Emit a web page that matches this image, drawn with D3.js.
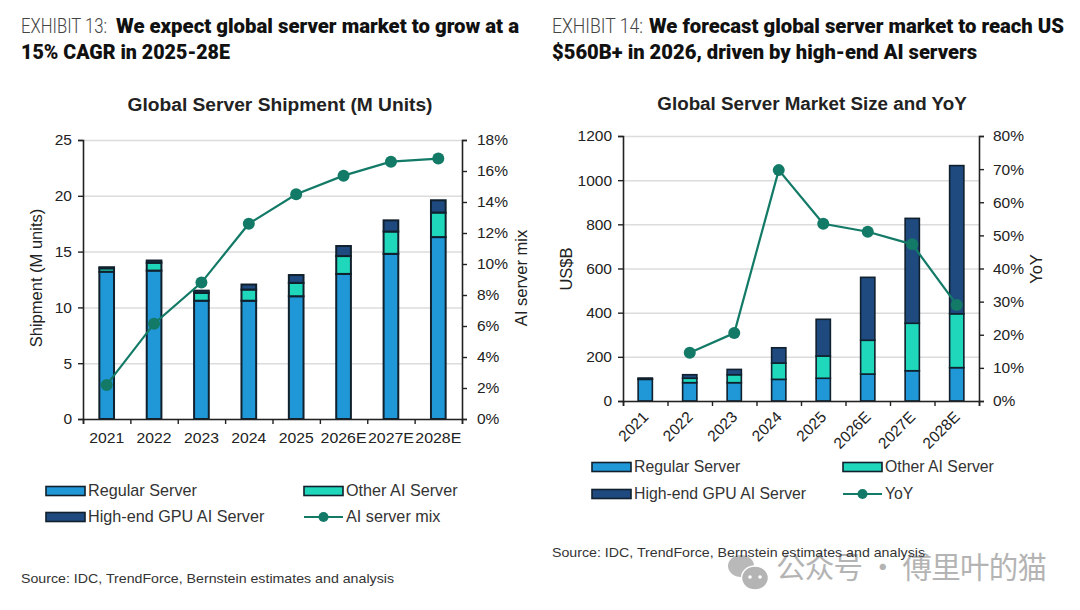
<!DOCTYPE html>
<html>
<head>
<meta charset="utf-8">
<script src="https://cdn.jsdelivr.net/npm/d3@7"></script>
<style>
  html, body { margin: 0; padding: 0; background: #fff; }
  svg { display: block; }
  text { font-family: "Liberation Sans", Arial, sans-serif; fill: #222; }
  .head { font-family: Roboto, sans-serif; font-size: 20px; }
  .headBold { font-weight: 900; fill: #111; }
  .headLight { font-weight: 300; fill: #444; }
  .chartTitle { font-weight: 700; text-anchor: middle; }
  .tick-label { font-size: 15.5px; }
  .axis-title { font-size: 16.5px; }
  .legend-label { fill: #333; }
  .source { font-size: 13.5px; fill: #333; }
</style>
</head>
<body>
<div id="chart"></div>
<script>
// categories and values
var years = ["2021", "2022", "2023", "2024", "2025", "2026E", "2027E", "2028E"];

var shipRegular = [13.2, 13.3, 10.6, 10.6, 11.0, 13.0, 14.8, 16.3];
var shipOther = [0.3, 0.7, 0.7, 1.0, 1.2, 1.6, 2.0, 2.2];
var shipHigh = [0.1, 0.2, 0.2, 0.45, 0.7, 0.9, 1.0, 1.1];
var shipMix = [2.2, 6.15, 8.8, 12.6, 14.5, 15.7, 16.6, 16.8];

var sizeRegular = [98, 83, 83, 98, 103, 122, 137, 151];
var sizeOther = [2, 20, 36, 74, 101, 153, 215, 244];
var sizeHigh = [4, 16, 24, 69, 166, 285, 475, 671];
var sizeYoy = [null, 14.6, 20.5, 69.7, 53.5, 51.1, 47.3, 29];

var shipTicks = [0, 5, 10, 15, 20, 25];
var mixTicks = [0, 2, 4, 6, 8, 10, 12, 14, 16, 18];
var sizeTicks = [0, 200, 400, 600, 800, 1000, 1200];
var yoyTicks = [0, 10, 20, 30, 40, 50, 60, 70, 80];

var colors = {regular: "#2098d8", other: "#1fd8bb", high: "#1f4a80", line: "#127a66"};
var ink = "#222";

var svg = d3.select("#chart")
    .append("svg")
    .attr("width", 1080)
    .attr("height", 610);

// headline of one exhibit: light label, bold text, second bold line
function drawHeadline(x, label, labelWidth, first, firstX, firstWidth, second, secondWidth){
  svg.append("text").attr("class", "head headLight")
      .attr("x", x).attr("y", 33)
      .attr("textLength", labelWidth).attr("lengthAdjust", "spacingAndGlyphs")
      .text(label);
  svg.append("text").attr("class", "head headBold")
      .attr("x", firstX).attr("y", 33)
      .attr("textLength", firstWidth).attr("lengthAdjust", "spacingAndGlyphs")
      .text(first);
  svg.append("text").attr("class", "head headBold")
      .attr("x", x).attr("y", 59)
      .attr("textLength", secondWidth).attr("lengthAdjust", "spacingAndGlyphs")
      .text(second);
}

function drawChart(c){
  var xScale = d3.scaleBand()
      .domain(years)
      .range([c.left, c.right]);

  var yScale = d3.scaleLinear()
      .domain([0, c.leftTicks[c.leftTicks.length - 1]])
      .range([c.bottom, c.top]);

  var y2Scale = d3.scaleLinear()
      .domain([0, c.rightTicks[c.rightTicks.length - 1]])
      .range([c.bottom, c.top]);

  // title
  svg.append("text")
      .attr("class", "chartTitle")
      .attr("x", c.titleX)
      .attr("y", c.titleY)
      .style("font-size", c.titleSize + "px")
      .text(c.title);

  // gridlines
  svg.append("g")
      .attr("transform", "translate(" + c.left + ",0)")
      .call(d3.axisLeft(yScale).tickValues(c.leftTicks).tickSize(-(c.right - c.left)).tickFormat(""))
      .call(g => g.select(".domain").remove())
      .selectAll("line")
      .attr("stroke", "#dcdcdc")
      .attr("stroke-width", 1.5);

  // stacked bars
  var stack = d3.stack().keys(["regular", "other", "high"]);
  var rows = years.map((d, i) => ({
    year: d,
    regular: c.regular[i],
    other: c.other[i],
    high: c.high[i]
  }));
  var barWidth = xScale.bandwidth() * c.barShare;

  svg.selectAll(null)
      .data(stack(rows))
      .enter()
      .append("g")
      .attr("fill", d => colors[d.key])
      .selectAll("rect")
      .data(d => d)
      .enter()
      .append("rect")
      .attr("x", d => xScale(d.data.year) + (xScale.bandwidth() - barWidth) / 2)
      .attr("y", d => yScale(d[1]))
      .attr("width", barWidth)
      .attr("height", d => yScale(d[0]) - yScale(d[1]))
      .attr("stroke", "#10202c")
      .attr("stroke-width", c.barStroke);

  // axes
  var xAxis = svg.append("g")
      .attr("transform", "translate(0," + c.bottom + ")")
      .call(d3.axisBottom(d3.scaleLinear().domain([0, years.length]).range([c.left, c.right]))
          .tickValues(d3.range(0, years.length + 1)).tickSize(5).tickFormat(""));
  var yAxis = svg.append("g")
      .attr("transform", "translate(" + c.left + ",0)")
      .call(d3.axisLeft(yScale).tickValues(c.leftTicks).tickSize(5).tickPadding(6).tickFormat(d => d));
  var y2Axis = svg.append("g")
      .attr("transform", "translate(" + c.right + ",0)")
      .call(d3.axisRight(y2Scale).tickValues(c.rightTicks).tickSize(5).tickPadding(c.rightPad).tickFormat(d => d + "%"));

  [xAxis, yAxis, y2Axis].forEach(function(axis){
    axis.attr("font-family", null).attr("font-size", null);
    axis.selectAll(".domain").attr("stroke", ink).attr("stroke-width", 1.6);
    axis.selectAll(".tick line").attr("stroke", ink).attr("stroke-width", 1.4);
    axis.selectAll(".tick text").attr("class", "tick-label").style("fill", ink);
  });

  // category labels, flat on the left chart and slanted on the right one
  svg.selectAll(null)
      .data(years)
      .enter()
      .append("text")
      .attr("class", "tick-label")
      .attr("text-anchor", c.slant ? "end" : "middle")
      .attr("transform", d => {
        var px = xScale(d) + xScale.bandwidth() / 2;
        return c.slant ? "translate(" + (px + 4) + "," + (c.bottom + 17) + ") rotate(-45)"
                       : "translate(" + px + "," + (c.bottom + 24) + ")";
      })
      .attr("textLength", d => c.slant ? null : (d.length > 4 ? 46 : 35))
      .attr("lengthAdjust", "spacingAndGlyphs")
      .text(d => d);

  // line series on the right axis
  var linePoints = years
      .map((d, i) => ({year: d, value: c.line[i]}))
      .filter(d => d.value !== null);

  var line = d3.line()
      .x(d => xScale(d.year) + xScale.bandwidth() / 2)
      .y(d => y2Scale(d.value));

  svg.append("path")
      .datum(linePoints)
      .attr("d", line)
      .attr("fill", "none")
      .attr("stroke", colors.line)
      .attr("stroke-width", 2.2);

  svg.selectAll(null)
      .data(linePoints)
      .enter()
      .append("circle")
      .attr("cx", d => xScale(d.year) + xScale.bandwidth() / 2)
      .attr("cy", d => y2Scale(d.value))
      .attr("r", 6)
      .attr("fill", colors.line);

  // axis titles
  svg.append("text")
      .attr("class", "axis-title")
      .attr("text-anchor", "middle")
      .attr("transform", "translate(" + c.leftTitleX + "," + c.leftTitleY + ") rotate(-90)")
      .text(c.leftTitle);
  svg.append("text")
      .attr("class", "axis-title")
      .attr("text-anchor", "middle")
      .attr("transform", "translate(" + c.rightTitleX + "," + c.rightTitleY + ") rotate(-90)")
      .text(c.rightTitle);

  // legend
  var swatchW = 39;
  function swatch(x, y, key, label){
    svg.append("rect")
        .attr("x", x).attr("y", y - 4.5)
        .attr("width", swatchW).attr("height", 9)
        .attr("fill", colors[key])
        .attr("stroke", "#10202c")
        .attr("stroke-width", 1.6);
    svg.append("text")
        .attr("class", "legend-label")
        .attr("x", x + swatchW + 3).attr("y", y + 5)
        .style("font-size", c.legendSize + "px")
        .text(label);
  }
  swatch(c.legendX1, c.legendY1, "regular", "Regular Server");
  swatch(c.legendX2, c.legendY1, "other", "Other AI Server");
  swatch(c.legendX1, c.legendY2, "high", "High-end GPU AI Server");

  svg.append("line")
      .attr("x1", c.legendX2).attr("x2", c.legendX2 + swatchW)
      .attr("y1", c.legendY2).attr("y2", c.legendY2)
      .attr("stroke", colors.line).attr("stroke-width", 2);
  svg.append("circle")
      .attr("cx", c.legendX2 + swatchW / 2).attr("cy", c.legendY2)
      .attr("r", 5).attr("fill", colors.line);
  svg.append("text")
      .attr("class", "legend-label")
      .attr("x", c.legendX2 + swatchW + 3).attr("y", c.legendY2 + 5)
      .style("font-size", c.legendSize + "px")
      .text(c.lineName);

  // source note
  svg.append("text")
      .attr("class", "source")
      .attr("x", c.sourceX).attr("y", c.sourceY)
      .attr("textLength", 373).attr("lengthAdjust", "spacingAndGlyphs")
      .text("Source: IDC, TrendForce, Bernstein estimates and analysis");
}

// watermark sits under the second source note
function drawWatermark(){
  var mark = svg.append("g");
  mark.append("ellipse").attr("cx", 741).attr("cy", 566).attr("rx", 13).attr("ry", 11).attr("fill", "#b9b9b9");
  mark.append("ellipse").attr("cx", 755).attr("cy", 578).attr("rx", 13.5).attr("ry", 12).attr("fill", "#b4b4b4")
      .attr("stroke", "#fff").attr("stroke-width", 1.5);
  [750, 760].forEach(function(px){
    mark.append("circle").attr("cx", px).attr("cy", 577).attr("r", 1.8).attr("fill", "#fff");
  });
  mark.append("text")
      .attr("x", 776).attr("y", 578)
      .style("font-family", '"Noto Sans CJK SC", sans-serif')
      .style("font-size", "29.5px")
      .style("font-weight", 400)
      .style("fill", "#b4b4b4")
      .attr("textLength", 271)
      .text("公众号 · 傅里叶的猫");
}

drawHeadline(21, "EXHIBIT 13:", 86, "We expect global server market to grow at a", 116, 403,
             "15% CAGR in 2025-28E", 209);
drawHeadline(552, "EXHIBIT 14:", 91, "We forecast global server market to reach US", 649, 415,
             "$560B+ in 2026, driven by high-end AI servers", 425);

drawWatermark();

drawChart({
  title: "Global Server Shipment (M Units)", titleX: 280, titleY: 111, titleSize: 19.2,
  left: 83, right: 462, top: 140, bottom: 419, rightPad: 10,
  leftTicks: shipTicks, rightTicks: mixTicks,
  regular: shipRegular, other: shipOther, high: shipHigh, line: shipMix,
  barShare: 0.31, barStroke: 2, slant: false,
  leftTitle: "Shipment (M units)", leftTitleX: 42, leftTitleY: 278,
  rightTitle: "AI server mix", rightTitleX: 527, rightTitleY: 278,
  legendX1: 46, legendX2: 304, legendY1: 491, legendY2: 517, legendSize: 16.2,
  lineName: "AI server mix",
  sourceX: 21, sourceY: 583
});

drawChart({
  title: "Global Server Market Size and YoY", titleX: 812, titleY: 110, titleSize: 18.8,
  left: 623, right: 979, top: 136, bottom: 401, rightPad: 9,
  leftTicks: sizeTicks, rightTicks: yoyTicks,
  regular: sizeRegular, other: sizeOther, high: sizeHigh, line: sizeYoy,
  barShare: 0.32, barStroke: 1.6, slant: true,
  leftTitle: "US$B", leftTitleX: 572, leftTitleY: 269,
  rightTitle: "YoY", rightTitleX: 1042, rightTitleY: 269,
  legendX1: 592, legendX2: 843, legendY1: 467, legendY2: 494, legendSize: 15.8,
  lineName: "YoY",
  sourceX: 552, sourceY: 557
});
</script>
</body>
</html>
